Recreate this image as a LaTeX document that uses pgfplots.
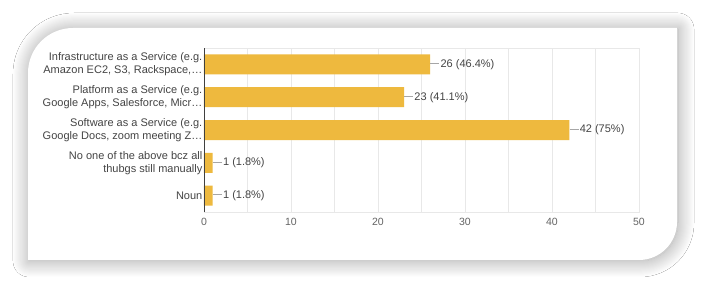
\documentclass[border=0pt]{standalone}
\usepackage{fontspec}
\setmainfont{Liberation Sans}
\usepackage{pgfplots}
\pgfplotsset{compat=1.18}
\usetikzlibrary{shadows.blur}
\definecolor{barc}{RGB}{238,185,62}
\definecolor{lbl}{RGB}{68,68,68}
\definecolor{tck}{RGB}{100,100,100}
\definecolor{grd}{RGB}{232,232,232}
\begin{document}
\begin{tikzpicture}[x=1pt,y=1pt]
\useasboundingbox (0,0) rectangle (705,289);
\fill[white] (0,0) rectangle (705,289);
\path[fill=white, blur shadow={shadow xshift=1pt, shadow yshift=-1pt, shadow blur radius=16pt, shadow blur steps=16, shadow opacity=38}]
  (28,29) -- (28,200) [rounded corners=45pt] -- (28,261) -- (120,261) [sharp corners] -- (677,261) -- (677,120) [rounded corners=38pt] -- (677,29) -- (560,29) [sharp corners] -- cycle;
\begin{axis}[
  at={(204pt,77pt)}, anchor=south west,
  scale only axis, width=435pt, height=164pt,
  xbar, bar width=20pt,
  xmin=0, xmax=50, ymin=-0.5, ymax=4.5,
  y dir=reverse,
  ytick={0,1,2,3,4},
  yticklabels={
    {Infrastructure as a Service (e.g.\\Amazon EC2, S3, Rackspace,…},
    {Platform as a Service (e.g.\\Google Apps, Salesforce, Micr…},
    {Software as a Service (e.g.\\Google Docs, zoom meeting Z…},
    {No one of the above bcz all\\thubgs still manually},
    {Noun}},
  yticklabel style={align=right, font=\fontsize{11}{13.2}\selectfont, text=lbl, inner sep=1.5pt},
  xtick={0,10,20,30,40,50},
  xticklabel style={font=\fontsize{10.5}{12}\selectfont, text=tck, yshift=-3pt},
  /pgf/number format/assume math mode=true,
  major tick length=0pt, minor tick length=0pt,
  minor x tick num=1,
  xmajorgrids, xminorgrids,
  major grid style={grd, line width=0.6pt},
  minor grid style={grd, line width=0.6pt},
  axis line style={grd, line width=0.6pt},
  point meta=explicit symbolic,
  nodes near coords={\textcolor{gray!70}{\rule[0.32em]{9pt}{0.6pt}}\kern1.2pt\pgfplotspointmeta},
  nodes near coords style={anchor=west, inner sep=0pt, font=\fontsize{11}{13}\selectfont, text=lbl},
]
\addplot[fill=barc, draw=none] coordinates {
  (26,0) [26 (46.4\%)]
  (23,1) [23 (41.1\%)]
  (42,2) [42 (75\%)]
  (1,3) [1 (1.8\%)]
  (1,4) [1 (1.8\%)]
};
\draw[black!75, line width=0.9pt] (axis cs:0,-0.5) -- (axis cs:0,4.5);
\end{axis}
\end{tikzpicture}
\end{document}
